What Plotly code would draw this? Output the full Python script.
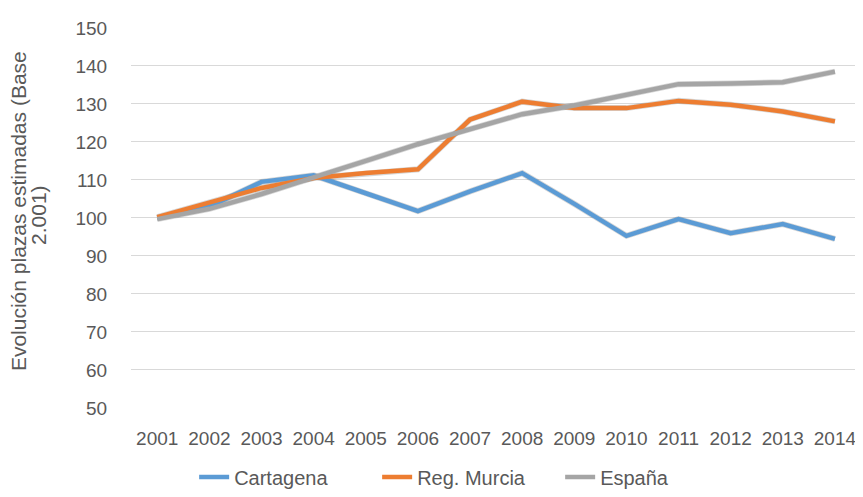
import plotly.graph_objects as go

years = ["2001", "2002", "2003", "2004", "2005", "2006", "2007", "2008", "2009", "2010", "2011", "2012", "2013", "2014"]
cartagena = [100, 103, 109.5, 111.2, 106.5, 101.8, 107, 111.8, 103.7, 95.3, 99.7, 96, 98.4, 94.5]
murcia = [100.2, 104, 107.9, 110.5, 111.8, 112.8, 125.9, 130.6, 128.9, 128.9, 130.8, 129.8, 128, 125.4]
espana = [99.7, 102.4, 106.3, 110.5, 115, 119.4, 123.3, 127.3, 129.6, 132.4, 135.2, 135.4, 135.7, 138.5]
y_ticks = [50, 60, 70, 80, 90, 100, 110, 120, 130, 140, 150]
y_title_lines = ["Evolución plazas estimadas (Base", "2.001)"]

series = [("Cartagena", cartagena, "#5B9BD5"),
          ("Reg. Murcia", murcia, "#ED7D31"),
          ("España", espana, "#A5A5A5")]

fig = go.Figure()
# soft drop shadows on the (hidden) base axes, slightly offset
for name, vals, col in series:
    fig.add_trace(go.Scatter(x=years, y=vals, mode="lines", xaxis="x", yaxis="y",
                             line=dict(color="rgba(0,0,0,0.16)", width=6),
                             showlegend=False, hoverinfo="skip"))
# main lines on the visible overlaying axes
for name, vals, col in series:
    fig.add_trace(go.Scatter(x=years, y=vals, name=name, mode="lines",
                             xaxis="x2", yaxis="y2",
                             line=dict(color=col, width=4.5)))

tf = dict(size=19, color="#595959")
# rotated two-line axis title (tighter line spacing, like the original)
for txt, xp, yp in zip(y_title_lines, [-0.150, -0.124], [0.516, 0.506]):
    fig.add_annotation(text=txt, textangle=-90, xref="paper", yref="paper",
                       x=xp, y=yp, xanchor="center", yanchor="middle",
                       showarrow=False, font=dict(size=21, color="#595959"))

fig.update_layout(
    width=855, height=489,
    margin=dict(l=121, r=2, t=18, b=89, autoexpand=False),
    paper_bgcolor="white", plot_bgcolor="white",
    font=dict(family="Liberation Sans, Arial, sans-serif", size=19, color="#595959"),
    showlegend=True,
    legend=dict(orientation="h", x=0.089, xanchor="left", entrywidth=138,
                y=-0.232, yanchor="bottom", font=dict(size=20, color="#595959"),
                tracegroupgap=0),
    xaxis=dict(type="category", range=[-0.5, 13.5], domain=[0.003, 1],
               visible=False, anchor="y", automargin=False),
    yaxis=dict(range=[50, 150], domain=[0, 0.995], visible=False, anchor="x",
               automargin=False),
    xaxis2=dict(type="category", range=[-0.5, 13.5], domain=[0, 0.997],
                overlaying="x", anchor="y2", automargin=False,
                showgrid=False, zeroline=False, showline=False,
                ticks="", tickfont=tf, ticklabelstandoff=17),
    yaxis2=dict(range=[50, 150], domain=[0.005, 1], overlaying="y", anchor="x2",
                side="left", automargin=False, tickvals=y_ticks, showgrid=True,
                gridcolor="#D9D9D9", gridwidth=1, zeroline=False, showline=False,
                ticks="", tickfont=tf, ticklabelstandoff=23),
)

fig.write_html("out.html")
